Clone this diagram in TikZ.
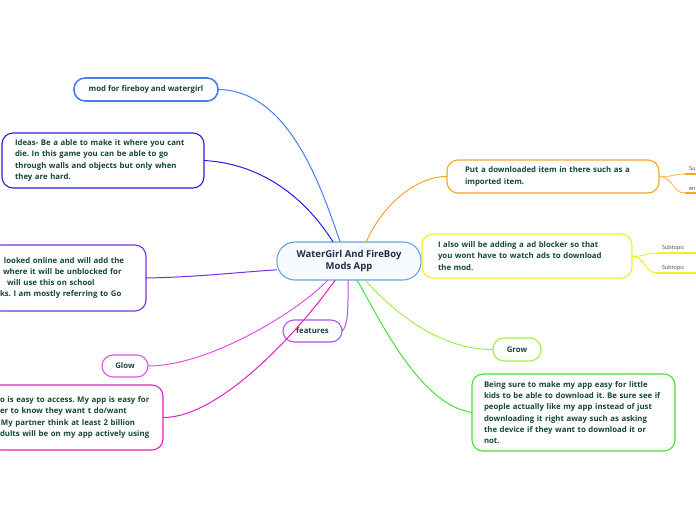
\documentclass[tikz,border=0pt]{standalone}
\usepackage{fontspec}
\setmainfont{Open Sans}
\frenchspacing
\definecolor{txt}{HTML}{17463A}
\definecolor{navy}{HTML}{1F2D4D}
\definecolor{cblue}{HTML}{62A6DC}
\definecolor{cfill}{HTML}{F6FAFE}
\definecolor{cmod}{HTML}{4A7CF2}
\definecolor{cideas}{HTML}{2A1CE2}
\definecolor{clook}{HTML}{7A2EE2}
\definecolor{cfeat}{HTML}{B052F0}
\definecolor{cglow}{HTML}{E252EA}
\definecolor{ceasy}{HTML}{E420C6}
\definecolor{corange}{HTML}{F8A424}
\definecolor{cyellow}{HTML}{F0F024}
\definecolor{cgrow}{HTML}{A2F044}
\definecolor{cbeing}{HTML}{44E234}
\definecolor{subgray}{HTML}{444444}
\tikzset{
  topic/.style={draw, rounded corners=11pt, line width=1.1pt, fill=white,
    font=\bfseries\fontsize{7.8}{11.2}\selectfont, text=txt, align=left,
    inner ysep=0pt, outer sep=0pt},
  conn/.style={line width=1pt},
  subt/.style={font=\fontsize{5.5}{6}\selectfont, text=subgray, align=left,
    inner ysep=2pt, outer sep=0pt},
}
\begin{document}
\begin{tikzpicture}[x=1pt,y=-1pt]
\useasboundingbox (0,0) rectangle (696,520);
% central node
\node[topic, draw=cblue, fill=cfill, rounded corners=18pt, minimum width=144pt, minimum height=38pt,
  font=\bfseries\fontsize{9.5}{12}\selectfont, align=center, text=navy] (c) at (349,261)
  {WaterGirl And FireBoy\\Mods App};
% left side
\node[topic, draw=cmod, line width=1.6pt, minimum width=144pt, minimum height=23pt, align=center, inner xsep=0pt] (m) at (146,89.5)
  {mod for fireboy and watergirl};
\node[topic, draw=cideas, minimum width=202pt, minimum height=55pt, inner xsep=13pt, text width=176pt] (i) at (103,160.5)
  {Ideas- Be a able to make it where you cant\\die. In this game you can be able to go\\through walls and objects but only when\\they are hard.};
\node[topic, draw=clook, minimum width=156pt, minimum height=66pt, inner xsep=10pt, text width=136pt] (l) at (68,278)
  {\hspace*{4pt}looked online and will add the\\\hspace*{3pt}where it will be unblocked for\\\hspace*{7pt}will use this on school\\ks. I am mostly referring to Go};
\node[topic, draw=cglow, minimum width=46pt, minimum height=22pt, align=center, inner xsep=0pt] (g) at (125,366) {Glow};
\node[topic, draw=ceasy, minimum width=173pt, minimum height=65pt, inner xsep=10pt, text width=153pt] (e) at (76.5,417.5)
  {o is easy to access. My app is easy for\\er to know they want t do/want\\\hspace*{1pt}My partner think at least 2 billion\\dults will be on my app actively using};
\node[topic, draw=cfeat, minimum width=59pt, minimum height=22pt, align=center, inner xsep=0pt, fill=none] (f) at (312.5,331) {features};
% right side
\node[topic, draw=corange, minimum width=212pt, minimum height=33pt, inner xsep=18pt, text width=176pt] (o) at (553,176.5)
  {Put a downloaded item in there such as a\\imported item.};
\node[topic, draw=cyellow, minimum width=210pt, minimum height=44pt, inner xsep=16pt, text width=178pt] (a) at (527,256)
  {I also will be adding a ad blocker so that\\you wont have to watch ads to download\\the mod.};
\node[topic, draw=cgrow, minimum width=48pt, minimum height=23pt, align=center, inner xsep=0pt] (gr) at (517,349.5) {Grow};
\node[topic, draw=cbeing, minimum width=203pt, minimum height=77pt, inner xsep=12pt, text width=179pt] (b) at (573.5,412.5)
  {Being sure to make my app easy for little\\kids to be able to download it. Be sure see if\\people actually like my app instead of just\\downloading it right away such as asking\\the device if they want to download it or\\not.};
% subtopics
\node[subt, anchor=south west, inner xsep=5pt, text width=50pt] (y1) at (657,253) {Subtopic};
\node[subt, anchor=south west, inner xsep=5pt, text width=50pt] (y2) at (657,273) {Subtopic};
\node[subt, anchor=south west, inner xsep=4pt, inner ysep=3.5pt, text width=20pt] (o1) at (685,174) {Su};
\node[subt, anchor=south west, inner xsep=4pt, inner ysep=2pt, text width=20pt] (o2) at (685,193) {en};
% connectors
\draw[conn, cmod] (m.east) .. controls (290,90) and (322,190) .. (c.115);
\draw[conn, cideas] (i.east) .. controls (268,164) and (310,205) .. (c.130);
\draw[conn, clook] (l.east) .. controls (200,277) and (240,272) .. (c.187);
\draw[conn, cglow] (g.east) .. controls (210,366) and (300,310) .. (c.222);
\draw[conn, ceasy] (e.east) .. controls (220,418) and (300,330) .. (c.234);
\draw[conn, cfeat] (f.east) .. controls (349,326) and (348,300) .. (c.267);
\draw[conn, cbeing] (b.west) .. controls (420,405) and (380,320) .. (c.293);
\draw[conn, cgrow] (gr.west) .. controls (455,350) and (410,330) .. (c.310);
\draw[conn, corange] (o.west) .. controls (420,176) and (385,200) .. (c.48);
\draw[conn, cyellow] (a.east) .. controls (646,257) and (644,253) .. (y1.south west);
\draw[conn, cyellow] (a.east) .. controls (646,257) and (644,273) .. (y2.south west);
\draw[conn, corange!70] (o.east) .. controls (674,177) and (672,174) .. (o1.south west);
\draw[conn, corange!70] (o.east) .. controls (674,177) and (672,193) .. (o2.south west);
\draw[line width=2pt, cyellow] (y1.south west) -- (y1.south east);
\draw[line width=2pt, cyellow] (y2.south west) -- (y2.south east);
\draw[line width=2pt, corange] (o1.south west) -- (o1.south east);
\draw[line width=2pt, corange] (o2.south west) -- (o2.south east);
\end{tikzpicture}
\end{document}
